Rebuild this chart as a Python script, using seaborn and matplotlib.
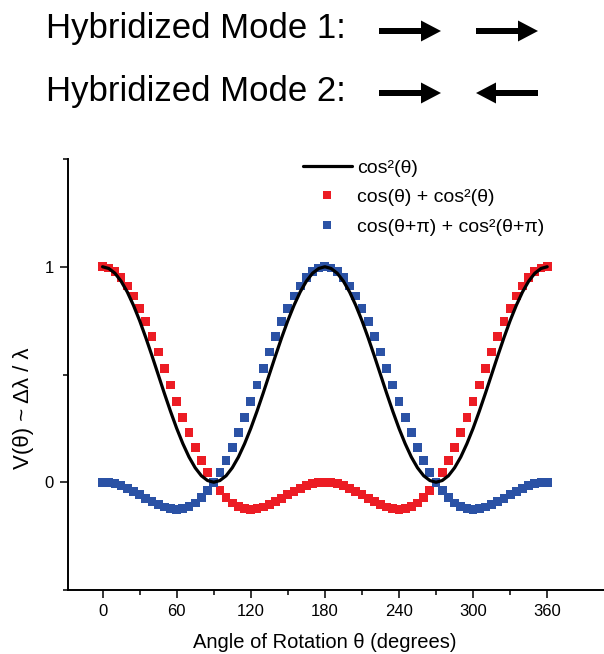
import matplotlib
matplotlib.use("Agg")
import matplotlib.pyplot as plt
from matplotlib.patches import FancyArrow
from matplotlib.lines import Line2D
from matplotlib.ticker import FixedLocator
import pandas as pd
import seaborn as sns

# angle of rotation in degrees, one point every 5 degrees
angles = list(range(0, 365, 5))

# cos^2(theta)
cos_sq = [1.000, 0.992, 0.970, 0.933, 0.883, 0.821, 0.750, 0.671, 0.587, 0.500,
          0.413, 0.329, 0.250, 0.179, 0.117, 0.067, 0.030, 0.008, 0.000, 0.008,
          0.030, 0.067, 0.117, 0.179, 0.250, 0.329, 0.413, 0.500, 0.587, 0.671,
          0.750, 0.821, 0.883, 0.933, 0.970, 0.992, 1.000, 0.992, 0.970, 0.933,
          0.883, 0.821, 0.750, 0.671, 0.587, 0.500, 0.413, 0.329, 0.250, 0.179,
          0.117, 0.067, 0.030, 0.008, 0.000, 0.008, 0.030, 0.067, 0.117, 0.179,
          0.250, 0.329, 0.413, 0.500, 0.587, 0.671, 0.750, 0.821, 0.883, 0.933,
          0.970, 0.992, 1.000]

# mode 1: cos(theta) + cos^2(theta), normalised
mode1 = [1.000, 0.994, 0.977, 0.949, 0.911, 0.864, 0.808, 0.745, 0.676, 0.604,
         0.528, 0.451, 0.375, 0.301, 0.230, 0.163, 0.102, 0.047, 0.000, -0.040,
         -0.072, -0.096, -0.113, -0.122, -0.125, -0.122, -0.115, -0.104, -0.090, -0.074,
         -0.058, -0.042, -0.028, -0.016, -0.007, -0.002, 0.000, -0.002, -0.007, -0.016,
         -0.028, -0.042, -0.058, -0.074, -0.090, -0.104, -0.115, -0.122, -0.125, -0.122,
         -0.113, -0.096, -0.072, -0.040, 0.000, 0.047, 0.102, 0.163, 0.230, 0.301,
         0.375, 0.451, 0.528, 0.604, 0.676, 0.745, 0.808, 0.864, 0.911, 0.949,
         0.977, 0.994, 1.000]

# mode 2: cos(theta+pi) + cos^2(theta+pi), normalised
mode2 = [0.000, -0.002, -0.007, -0.016, -0.028, -0.042, -0.058, -0.074, -0.090, -0.104,
         -0.115, -0.122, -0.125, -0.122, -0.113, -0.096, -0.072, -0.040, 0.000, 0.047,
         0.102, 0.163, 0.230, 0.301, 0.375, 0.451, 0.528, 0.604, 0.676, 0.745,
         0.808, 0.864, 0.911, 0.949, 0.977, 0.994, 1.000, 0.994, 0.977, 0.949,
         0.911, 0.864, 0.808, 0.745, 0.676, 0.604, 0.528, 0.451, 0.375, 0.301,
         0.230, 0.163, 0.102, 0.047, 0.000, -0.040, -0.072, -0.096, -0.113, -0.122,
         -0.125, -0.122, -0.115, -0.104, -0.090, -0.074, -0.058, -0.042, -0.028, -0.016,
         -0.007, -0.002, 0.000]

labels = ["cos²(θ)", "cos(θ) + cos²(θ)", "cos(θ+π) + cos²(θ+π)"]
header = ["Hybridized Mode 1:", "Hybridized Mode 2:"]
x_ticks = [0, 60, 120, 180, 240, 300, 360]
x_minor = [30, 90, 150, 210, 270, 330]

RED = "#ec1c24"
BLUE = "#2b52a5"

df = pd.DataFrame({"angle": angles, "cos_sq": cos_sq, "mode1": mode1, "mode2": mode2})

sns.set_style("ticks")
plt.rcParams["font.family"] = ["Liberation Sans", "DejaVu Sans"]
for key in ["text.color", "axes.labelcolor", "xtick.color", "ytick.color", "axes.edgecolor"]:
    plt.rcParams[key] = "black"

W, H = 604, 654
fig = plt.figure(figsize=(W / 100, H / 100), dpi=100)

# main axes, placed in pixels
left, right, top, bottom = 68, 604, 159, 590
ax = fig.add_axes([left / W, 1 - bottom / H, (right - left) / W, (bottom - top) / H])

sns.lineplot(data=df, x="angle", y="cos_sq", color="black", linewidth=2.3, ax=ax)
sns.scatterplot(data=df, x="angle", y="mode1", marker="s", s=40, color=RED,
                edgecolor="none", ax=ax)
sns.scatterplot(data=df, x="angle", y="mode2", marker="s", s=40, color=BLUE,
                edgecolor="none", ax=ax)

ax.set_xlim(-28, 406)
ax.set_ylim(-0.5, 1.5)
ax.set_xticks(x_ticks)
ax.xaxis.set_minor_locator(FixedLocator(x_minor))
ax.set_yticks([0, 1])
ax.yaxis.set_minor_locator(FixedLocator([-0.5, 0.5, 1.5]))
ax.tick_params(which="major", direction="out", length=6, width=1.1, labelsize=12, pad=4)
ax.tick_params(which="minor", direction="out", length=3.8, width=1.1)
sns.despine(ax=ax)
for s in ["left", "bottom"]:
    ax.spines[s].set_linewidth(1.4)
ax.set_xlabel("")
ax.set_ylabel("")

fig.text(324.5 / W, 1 - 643 / H, "Angle of Rotation θ (degrees)", fontsize=14.5,
         ha="center", va="center")
fig.text(23 / W, 1 - 408 / H, "V(θ) ~ Δλ / λ", fontsize=16, rotation=90,
         ha="center", va="center")

handles = [Line2D([], [], color="black", linewidth=2.3),
           Line2D([], [], color=RED, marker="s", linestyle="none", markersize=6.2,
                  markeredgewidth=0),
           Line2D([], [], color=BLUE, marker="s", linestyle="none", markersize=6.2,
                  markeredgewidth=0)]
fig.legend(handles, labels, loc="upper left", bbox_to_anchor=(303 / W, 1 - 159 / H),
           frameon=False, fontsize=14, handlelength=2.5, handletextpad=0.3,
           labelspacing=0.62, borderpad=0, borderaxespad=0)

# header with the two hybridized modes, drawn in pixel coordinates
hax = fig.add_axes([0, 0, 1, 1])
hax.set_xlim(0, W)
hax.set_ylim(H, 0)
hax.axis("off")
for txt, yb in zip(header, [38, 101]):
    hax.text(46, yb, txt, fontsize=25, ha="left", va="baseline")

arrow_kw = dict(width=6, head_width=21, head_length=20, length_includes_head=True,
                color="black", linewidth=0)
hax.add_patch(FancyArrow(379, 31, 62, 0, **arrow_kw))
hax.add_patch(FancyArrow(476, 31, 62, 0, **arrow_kw))
hax.add_patch(FancyArrow(379, 93, 62, 0, **arrow_kw))
hax.add_patch(FancyArrow(538, 93, -62, 0, **arrow_kw))

fig.savefig("out.png", dpi=100)
